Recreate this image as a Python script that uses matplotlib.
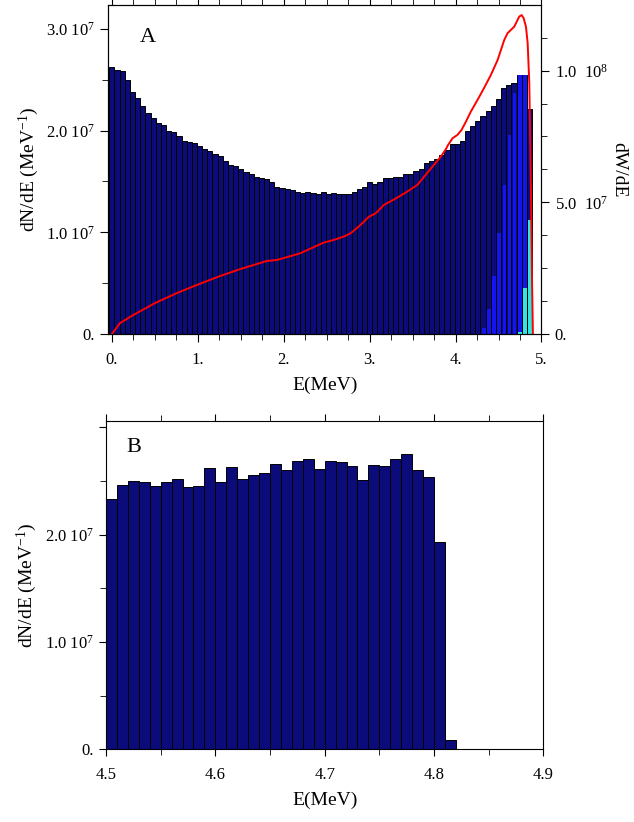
import numpy as np
import matplotlib.pyplot as plt
from matplotlib.ticker import MultipleLocator, FuncFormatter

plt.rcParams['font.family'] = ['Liberation Serif', 'DejaVu Serif']
plt.rcParams['mathtext.fontset'] = 'custom'
plt.rcParams['mathtext.rm'] = 'Liberation Serif'
plt.rcParams['mathtext.it'] = 'Liberation Serif:italic'

# ---- panel A : full spectrum, bins of 0.06 MeV (values in 1e7 / MeV)
bin_a = 0.06
dn_a = [2.622, 2.596, 2.586, 2.497, 2.383, 2.320, 2.244, 2.170, 2.122, 2.073,
        2.056, 1.996, 1.984, 1.947, 1.898, 1.885, 1.875, 1.849, 1.816, 1.800,
        1.770, 1.750, 1.701, 1.662, 1.649, 1.622, 1.596, 1.573, 1.547, 1.537,
        1.524, 1.495, 1.449, 1.436, 1.426, 1.413, 1.396, 1.386, 1.400, 1.386,
        1.377, 1.400, 1.377, 1.386, 1.373, 1.373, 1.373, 1.396, 1.426, 1.449,
        1.495, 1.475, 1.498, 1.537, 1.537, 1.547, 1.547, 1.573, 1.573, 1.600,
        1.622, 1.681, 1.701, 1.721, 1.760, 1.810, 1.868, 1.868, 1.898, 1.996,
        2.045, 2.094, 2.144, 2.193, 2.245, 2.307, 2.416, 2.448, 2.465, 2.547,
        2.547, 2.212]
# sub-spectra in the last bins (bins 72..81)
first_sub = 72
dn_blue = [0.056, 0.243, 0.567, 0.996, 1.465, 1.960, 2.367, 2.547, 2.547, 0.0]
dn_cyan = [0.0, 0.0, 0.0, 0.0, 0.0, 0.0, 0.0, 0.023, 0.449, 1.121]

# dW/dE curve (values in 1e6)
e_w = [0.0, 0.093, 0.248, 0.50, 0.754, 0.987, 1.259, 1.49, 1.80, 1.92,
       2.19, 2.31, 2.466, 2.582, 2.699, 2.777, 2.894, 2.99, 3.07, 3.166,
       3.28, 3.42, 3.555, 3.633, 3.73, 3.827, 3.886, 3.906, 3.964, 4.022,
       4.07, 4.12, 4.177, 4.256, 4.33, 4.41, 4.489, 4.566, 4.605, 4.683,
       4.741, 4.769, 4.792, 4.819, 4.839, 4.858, 4.877, 4.89, 4.90]
dw = [0.0, 4.1, 7.2, 11.7, 15.5, 18.6, 22.0, 24.6, 27.7, 28.1,
      30.6, 32.4, 34.7, 35.7, 37.0, 38.2, 41.4, 44.5, 45.8, 49.0,
      51.0, 53.7, 56.6, 59.7, 63.5, 67.3, 70.1, 71.4, 74.3, 75.6,
      77.5, 80.6, 84.4, 88.9, 93.3, 98.3, 104.0, 111.6, 114.2, 116.7,
      120.5, 121.1, 119.9, 116.7, 110.4, 95.2, 55.0, 20.0, 0.0]

# ---- panel B : zoom on the end point, bins of 0.01 MeV from 4.5
bin_b = 0.01
e_b_start = 4.5
dn_b = [2.337, 2.462, 2.502, 2.490, 2.459, 2.490, 2.520, 2.443, 2.459, 2.622,
        2.496, 2.634, 2.520, 2.560, 2.579, 2.655, 2.603, 2.689, 2.705, 2.613,
        2.683, 2.677, 2.643, 2.514, 2.646, 2.643, 2.707, 2.750, 2.603, 2.539,
        1.928, 0.083]

navy = '#0b0b7a'
blue = '#1414f0'
cyan = '#30e6e0'


def sci_fmt(v, pos, gap=' '):
    if abs(v) < 1e-3:
        return '0.'
    if v < 0:
        return ''
    ex = int(np.floor(np.log10(v) + 1e-9))
    return '%.1f%s$10^{%d}$' % (v / 10 ** ex, gap, ex)


fig = plt.figure(figsize=(6.34, 8.22), dpi=100)

# ---------------- A
ax = fig.add_axes([0.1711, 0.5937, 0.683, 0.4002])
e_a = np.arange(len(dn_a)) * bin_a
ax.bar(e_a, np.array(dn_a) * 1e7, width=bin_a, color=navy,
       edgecolor='black', linewidth=0.7)
e_sub = e_a[first_sub:]
ax.bar(e_sub + 0.008, np.array(dn_blue) * 1e7, width=0.042, color=blue,
       linewidth=0)
ax.bar(e_sub + 0.008, np.array(dn_cyan) * 1e7, width=0.042, color=cyan,
       linewidth=0)
ax.set_xlim(-0.04, 5.0)
ax.set_ylim(0, 3.235e7)
ax.xaxis.set_major_locator(MultipleLocator(1))
ax.xaxis.set_minor_locator(MultipleLocator(0.25))
ax.xaxis.set_major_formatter(FuncFormatter(lambda v, p: '%d.' % round(v)))
ax.yaxis.set_major_locator(MultipleLocator(1e7))
ax.yaxis.set_minor_locator(MultipleLocator(0.5e7))
ax.yaxis.set_major_formatter(FuncFormatter(sci_fmt))
ax.tick_params(which='both', direction='out', top=True, right=False,
               labelsize=12)
ax.tick_params(which='major', length=6)
ax.tick_params(which='minor', length=4)
ax.tick_params(axis='x', which='major', pad=7)
ax.set_xlabel('E(MeV)', fontsize=14, labelpad=6)
ax.set_ylabel('dN/dE (MeV$^{-1}$)', fontsize=14, labelpad=4)
ax.text(0.09, 0.90, 'A', transform=ax.transAxes, fontsize=16,
        ha='center', va='center')

ax2 = ax.twinx()
ax2.plot(e_w, np.array(dw) * 1e6, color='red', linewidth=1.4)
ax2.set_ylim(0, 1.249e8)
ax2.yaxis.set_major_locator(MultipleLocator(5e7))
ax2.yaxis.set_minor_locator(MultipleLocator(1.25e7))
ax2.yaxis.set_major_formatter(FuncFormatter(lambda v, p: sci_fmt(v, p, '  ')))
ax2.tick_params(which='both', direction='out', labelsize=12)
ax2.tick_params(which='major', length=6)
ax2.tick_params(which='minor', length=4)
ax2.set_ylabel('dW/dE', fontsize=14, rotation=270, labelpad=14)

# ---------------- B
bx = fig.add_axes([0.1672, 0.0884, 0.6898, 0.3994])
e_b = e_b_start + np.arange(len(dn_b)) * bin_b
bx.bar(e_b, np.array(dn_b) * 1e7, width=bin_b, align='edge', color=navy,
       edgecolor='black', linewidth=0.7)
bx.set_xlim(4.5, 4.9)
bx.set_ylim(0, 3.06e7)
bx.xaxis.set_major_locator(MultipleLocator(0.1))
bx.xaxis.set_minor_locator(MultipleLocator(0.05))
bx.xaxis.set_major_formatter(FuncFormatter(lambda v, p: '%.1f' % v))
bx.yaxis.set_major_locator(MultipleLocator(1e7))
bx.yaxis.set_minor_locator(MultipleLocator(0.5e7))
bx.yaxis.set_major_formatter(
    FuncFormatter(lambda v, p: '' if v > 2.5e7 else sci_fmt(v, p)))
bx.tick_params(which='both', direction='out', top=True, right=False,
               labelsize=12)
bx.tick_params(which='major', length=5)
bx.tick_params(which='minor', length=4)
bx.tick_params(axis='x', which='major', pad=8)
bx.set_xlabel('E(MeV)', fontsize=14, labelpad=6)
bx.set_ylabel('dN/dE (MeV$^{-1}$)', fontsize=14, labelpad=4)
bx.text(0.064, 0.92, 'B', transform=bx.transAxes, fontsize=16,
        ha='center', va='center')

fig.savefig('out.png', dpi=100)
